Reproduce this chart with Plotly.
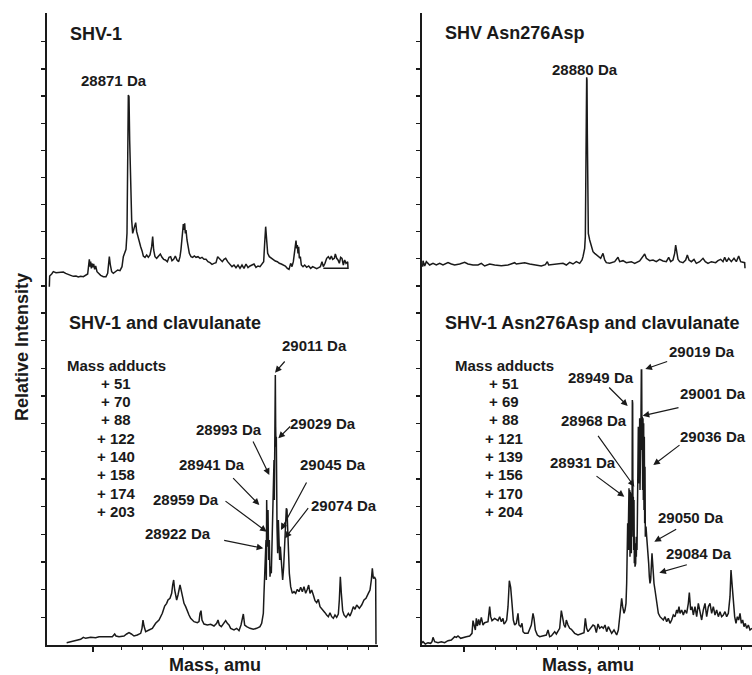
import plotly.graph_objects as go

# ---------------- data (mass in Da, intensity in arbitrary units) ----------------
tl_mass = [28634, 28635, 28641, 28646, 28654, 28661, 28668, 28676, 28683, 28691,
           28698, 28706, 28714, 28721, 28728, 28736, 28744, 28749, 28752, 28754,
           28756, 28758, 28760, 28762, 28764, 28767, 28770, 28773, 28777, 28782,
           28788, 28796, 28804, 28809, 28812, 28814, 28817, 28821, 28826, 28833,
           28839, 28846, 28852, 28856, 28860, 28864, 28867, 28869, 28871, 28873,
           28875, 28876, 28878, 28881, 28884, 28887, 28890, 28893, 28896, 28900,
           28904, 28908, 28912, 28916, 28921, 28926, 28931, 28936, 28941, 28944,
           28947, 28951, 28956, 28962, 28967, 28972, 28977, 28982, 28988, 28993,
           28998, 29002, 29007, 29012, 29017, 29022, 29026, 29029, 29032, 29034,
           29036, 29038, 29040, 29042, 29044, 29047, 29050, 29054, 29059, 29064,
           29069, 29074, 29080, 29086, 29092, 29098, 29104, 29110, 29116, 29122,
           29128, 29134, 29139, 29143, 29148, 29153, 29158, 29163, 29169, 29176,
           29182, 29188, 29194, 29200, 29206, 29212, 29218, 29224, 29230, 29236,
           29242, 29248, 29254, 29260, 29266, 29272, 29277, 29280, 29283, 29286,
           29289, 29294, 29300, 29306, 29312, 29318, 29324, 29330, 29336, 29342,
           29348, 29353, 29358, 29362, 29366, 29369, 29372, 29374, 29376, 29378,
           29380, 29382, 29384, 29387, 29390, 29395, 29400, 29406, 29412, 29418,
           29424, 29430, 29436, 29442, 29447, 29452, 29456, 29461, 29466, 29471,
           29476, 29480, 29484, 29489, 29492, 29496, 29500, 29504, 29508, 29512,
           29516, 29520, 29524, 29529, 29530, 29456]
tl_int = [40, 72, 78, 85, 82, 83, 85, 84, 80, 78,
          74, 71, 72, 69, 71, 70, 74, 78, 105, 122,
          100, 115, 95, 110, 98, 108, 92, 102, 85, 80,
          74, 70, 70, 80, 110, 130, 105, 85, 80, 85,
          90, 88, 100, 130, 145, 152, 200, 400, 615, 610,
          480, 440, 340, 240, 200, 210, 225, 232, 205, 188,
          175, 160, 148, 132, 128, 135, 128, 135, 160, 190,
          150, 130, 125, 132, 138, 128, 122, 120, 115, 128,
          130, 118, 122, 132, 120, 115, 130, 152, 195, 212,
          228, 210, 230, 200, 210, 180, 160, 140, 130, 128,
          132, 128, 130, 125, 128, 122, 122, 115, 112, 107,
          110, 112, 130, 125, 118, 115, 122, 125, 115, 105,
          100, 105, 97, 105, 95, 105, 95, 108, 97, 102,
          105, 108, 98, 102, 100, 108, 115, 170, 220, 180,
          140, 130, 125, 120, 117, 115, 110, 108, 105, 102,
          95, 92, 110, 100, 115, 140, 170, 178, 155, 165,
          140, 160, 125, 130, 105, 100, 105, 98, 102, 95,
          100, 98, 94, 97, 100, 115, 100, 110, 125, 130,
          122, 132, 122, 125, 138, 125, 120, 110, 128, 125,
          105, 120, 110, 115, 95, 95]

tr_mass = [28388, 28389, 28394, 28399, 28409, 28419, 28429, 28439, 28449, 28464,
           28474, 28484, 28499, 28514, 28524, 28539, 28554, 28564, 28574, 28589,
           28604, 28624, 28644, 28659, 28664, 28669, 28679, 28689, 28694, 28709,
           28724, 28744, 28756, 28762, 28766, 28779, 28794, 28809, 28819, 28829,
           28839, 28849, 28859, 28866, 28869, 28874, 28876, 28878, 28879, 28880,
           28881, 28882, 28883, 28885, 28889, 28894, 28899, 28904, 28914, 28922,
           28929, 28934, 28939, 28949, 28964, 28974, 28979, 28989, 28999, 29014,
           29024, 29039, 29054, 29059, 29069, 29079, 29089, 29099, 29109, 29119,
           29126, 29132, 29139, 29144, 29147, 29150, 29154, 29159, 29169, 29177,
           29182, 29187, 29194, 29202, 29209, 29219, 29229, 29236, 29244, 29254,
           29267, 29274, 29282, 29289, 29294, 29300, 29306, 29314, 29322, 29329,
           29336, 29342, 29349, 29354, 29355]
tr_int = [100, 118, 102, 115, 105, 110, 105, 110, 105, 112,
          108, 105, 108, 113, 108, 105, 105, 110, 102, 108,
          105, 103, 105, 110, 112, 108, 110, 110, 112, 108,
          105, 102, 106, 115, 105, 107, 108, 110, 105, 113,
          108, 115, 110, 120, 130, 155, 190, 340, 550, 668,
          660, 500, 340, 200, 180, 165, 145, 140, 130, 125,
          140, 120, 112, 110, 115, 128, 115, 118, 112, 115,
          110, 117, 138, 125, 118, 120, 115, 122, 117, 115,
          128, 115, 120, 140, 165, 140, 122, 115, 112, 120,
          135, 120, 115, 122, 110, 115, 125, 115, 110, 115,
          112, 118, 122, 115, 128, 115, 125, 115, 125, 115,
          132, 115, 112, 112, 95]

bl_mass = [28386, 28398, 28413, 28428, 28436, 28443, 28458, 28473, 28483, 28498,
           28513, 28523, 28530, 28534, 28543, 28558, 28566, 28573, 28580, 28588,
           28598, 28608, 28612, 28615, 28618, 28623, 28633, 28643, 28653, 28663,
           28673, 28680, 28686, 28690, 28696, 28701, 28704, 28707, 28710, 28713,
           28716, 28720, 28723, 28726, 28729, 28733, 28738, 28743, 28748, 28753,
           28758, 28768, 28778, 28783, 28786, 28789, 28792, 28798, 28808, 28818,
           28828, 28836, 28840, 28844, 28850, 28858, 28863, 28868, 28873, 28878,
           28888, 28896, 28903, 28909, 28912, 28916, 28920, 28926, 28936, 28946,
           28956, 28966, 28971, 28976, 28978, 28981, 28983, 28984, 28985, 28986,
           28988, 28990, 28992, 28994, 28996, 28998, 29000, 29002, 29004, 29006,
           29008, 29009, 29011, 29012, 29013, 29014, 29015, 29017, 29019, 29021,
           29023, 29025, 29027, 29030, 29034, 29037, 29040, 29043, 29045, 29047,
           29049, 29051, 29054, 29058, 29063, 29068, 29073, 29078, 29083, 29088,
           29093, 29098, 29103, 29108, 29112, 29116, 29121, 29126, 29131, 29136,
           29141, 29146, 29151, 29156, 29161, 29166, 29171, 29176, 29181, 29186,
           29191, 29196, 29201, 29204, 29207, 29210, 29214, 29218, 29224, 29231,
           29236, 29241, 29246, 29251, 29256, 29264, 29271, 29278, 29284, 29291,
           29296, 29300, 29303, 29306, 29310, 29313, 29314]
bl_int = [7, 10, 15, 17, 23, 20, 23, 22, 25, 25,
          27, 25, 33, 27, 25, 27, 33, 37, 33, 27,
          30, 35, 50, 75, 57, 40, 45, 50, 65, 75,
          95, 117, 125, 135, 140, 155, 180, 195, 165, 145,
          135, 150, 173, 180, 167, 145, 125, 115, 100, 90,
          80, 70, 67, 70, 95, 103, 75, 63, 60, 62,
          57, 65, 75, 60, 55, 65, 73, 65, 60, 50,
          45, 50, 43, 60, 80, 93, 60, 55, 50, 47,
          50, 55, 65, 95, 155, 235, 295, 315, 195, 435,
          295, 405, 255, 315, 205, 235, 215, 305, 475, 485,
          555, 435, 805, 810, 655, 595, 625, 355, 275, 375,
          315, 255, 295, 235, 195, 235, 295, 335, 410, 405,
          335, 255, 215, 175, 155, 160, 155, 167, 160, 173,
          160, 175, 155, 167, 180, 155, 165, 150, 133, 127,
          137, 115, 110, 103, 97, 90, 85, 97, 85, 80,
          90, 83, 93, 135, 205, 155, 103, 90, 83, 95,
          87, 100, 115, 107, 120, 110, 120, 135, 140, 155,
          165, 195, 230, 200, 203, 197, 2]

br_mass = [28358, 28363, 28370, 28378, 28386, 28390, 28393, 28398, 28408, 28418,
           28428, 28438, 28448, 28453, 28458, 28463, 28468, 28476, 28483, 28493,
           28503, 28510, 28513, 28516, 28520, 28523, 28526, 28530, 28533, 28538,
           28543, 28548, 28558, 28563, 28566, 28570, 28578, 28588, 28593, 28598,
           28603, 28606, 28610, 28614, 28618, 28622, 28626, 28630, 28634, 28638,
           28643, 28648, 28651, 28656, 28660, 28663, 28668, 28678, 28688, 28693,
           28696, 28700, 28706, 28713, 28723, 28733, 28738, 28743, 28748, 28758,
           28763, 28773, 28778, 28782, 28786, 28790, 28793, 28798, 28803, 28808,
           28818, 28828, 28838, 28846, 28850, 28854, 28858, 28863, 28868, 28873,
           28878, 28883, 28888, 28893, 28899, 28904, 28909, 28914, 28919, 28924,
           28929, 28936, 28940, 28944, 28949, 28952, 28956, 28959, 28962, 28966,
           28969, 28972, 28974, 28976, 28977, 28978, 28979, 28980, 28981, 28982,
           28983, 28984, 28985, 28986, 28987, 28988, 28989, 28990, 28991, 28992,
           28993, 28994, 28995, 28996, 28997, 28998, 28999, 29000, 29001, 29002,
           29003, 29004, 29005, 29006, 29007, 29008, 29009, 29010, 29011, 29012,
           29013, 29014, 29015, 29016, 29017, 29018, 29019, 29020, 29021, 29022,
           29023, 29024, 29025, 29026, 29027, 29028, 29029, 29030, 29031, 29032,
           29034, 29036, 29038, 29040, 29042, 29044, 29046, 29048, 29050, 29052,
           29054, 29056, 29059, 29062, 29066, 29069, 29074, 29079, 29084, 29089,
           29094, 29099, 29104, 29109, 29114, 29119, 29124, 29127, 29131, 29134,
           29139, 29144, 29149, 29154, 29159, 29162, 29166, 29170, 29174, 29179,
           29184, 29189, 29194, 29199, 29204, 29209, 29214, 29219, 29224, 29229,
           29234, 29239, 29244, 29249, 29254, 29259, 29264, 29269, 29274, 29279,
           29284, 29287, 29290, 29294, 29298, 29302, 29306, 29310, 29314, 29318,
           29322, 29326, 29330, 29334, 29339, 29344, 29350]
br_int = [5, 10, 3, 7, 5, 10, 23, 10, 7, 10,
          7, 13, 15, 20, 25, 23, 27, 20, 23, 25,
          27, 35, 73, 60, 45, 80, 57, 77, 60, 83,
          60, 67, 70, 115, 85, 73, 80, 73, 85, 70,
          80, 63, 67, 75, 115, 193, 173, 125, 75, 60,
          65, 95, 60, 55, 65, 40, 35, 35, 60, 95,
          80, 45, 30, 25, 27, 30, 45, 25, 27, 40,
          33, 50, 103, 80, 60, 53, 75, 60, 50, 47,
          35, 30, 35, 37, 80, 50, 40, 47, 55, 60,
          57, 37, 63, 50, 55, 50, 60, 40, 55, 45,
          35, 45, 37, 30, 45, 75, 125, 140, 115, 95,
          105, 125, 185, 265, 365, 285, 455, 295, 470, 285,
          465, 265, 460, 305, 455, 275, 445, 325, 735, 725,
          345, 445, 285, 435, 245, 325, 235, 285, 245, 305,
          265, 325, 285, 365, 505, 365, 655, 505, 675, 485,
          680, 465, 675, 535, 685, 825, 825, 585, 685, 465,
          680, 435, 665, 405, 625, 365, 535, 325, 435, 355,
          325, 305, 285, 245, 205, 185, 195, 235, 275, 245,
          205, 185, 165, 145, 115, 95, 85, 80, 75, 85,
          70, 80, 65, 75, 90, 85, 105, 95, 115, 95,
          105, 90, 105, 95, 125, 157, 105, 115, 90, 115,
          85, 125, 95, 75, 105, 125, 85, 115, 125, 95,
          115, 90, 105, 85, 100, 85, 90, 100, 85, 95,
          145, 225, 185, 125, 85, 65, 85, 75, 95, 65,
          75, 55, 65, 50, 60, 45, 50]

tl_peak = [28871]
tr_peak = [28880]
bl_peaks = [29011, 28993, 29029, 28941, 29045, 28959, 29074, 28922]
br_peaks = [29019, 28949, 29001, 28968, 29036, 28931, 29050, 29084]
bl_adducts = [51, 70, 88, 122, 140, 158, 174, 203]
br_adducts = [51, 69, 88, 121, 139, 156, 170, 204]

panel_titles = ["SHV-1", "SHV Asn276Asp", "SHV-1 and clavulanate",
                "SHV-1 Asn276Asp and clavulanate"]

# ---------------- layout helpers ----------------
W, H = 752, 675
INK = "#1a1a1a"
FONT = "Liberation Sans, Arial, Helvetica, sans-serif"


def px(x):
    return x / W


def py(y):
    return 1 - y / H


fig = go.Figure()
for m, it, xa, ya in [(tl_mass, tl_int, "x", "y"), (tr_mass, tr_int, "x2", "y2"),
                      (bl_mass, bl_int, "x3", "y3"), (br_mass, br_int, "x4", "y4")]:
    fig.add_trace(go.Scatter(x=m, y=it, mode="lines", xaxis=xa, yaxis=ya,
                             line=dict(color=INK, width=1.5),
                             hoverinfo="skip", showlegend=False))

left_dom = [px(47), px(378)]
right_dom = [px(422), 1.0]
top_dom = [py(300), py(13)]
bot_dom = [py(645), py(300)]

top_ticks = [42 + 81.4 * k for k in range(10)]
bot_ticks = [83 * k for k in range(1, 13)]


def yax(dom, rng, ticks, anchor):
    return dict(domain=dom, range=rng, anchor=anchor, showline=True, linewidth=1.8,
                linecolor=INK, ticks="outside", ticklen=4, tickwidth=1.2,
                tickcolor=INK, tickmode="array", tickvals=ticks,
                showticklabels=False, showgrid=False, zeroline=False, fixedrange=True)


def xax_hidden(dom, rng, anchor):
    return dict(domain=dom, range=rng, anchor=anchor, visible=False,
                showgrid=False, zeroline=False)


def xax(dom, rng, anchor, major, minor):
    return dict(domain=dom, range=rng, anchor=anchor, showline=True, linewidth=1.8,
                linecolor=INK, ticks="outside", ticklen=5, tickwidth=1.3,
                tickcolor=INK, tickmode="array", tickvals=major,
                showticklabels=False, showgrid=False, zeroline=False,
                minor=dict(tickmode="array", tickvals=minor, ticks="outside",
                           ticklen=3, tickwidth=1, tickcolor=INK, showgrid=False))


bl_minor = [28550, 28612, 28674, 28735, 28797, 28859, 28920, 28982, 29044,
            29106, 29167, 29229, 29291]
br_minor = [28581, 28643, 28704, 28766, 28827, 28889, 28950, 29012, 29073,
            29135, 29196, 29258, 29319]

fig.update_layout(
    width=W, height=H, margin=dict(l=0, r=0, t=0, b=0),
    paper_bgcolor="white", plot_bgcolor="white", showlegend=False,
    xaxis=xax_hidden(left_dom, [28627, 29620], "y"),
    yaxis=yax(top_dom, [0, 861], top_ticks, "x"),
    xaxis2=xax_hidden(right_dom, [28386, 29376], "y2"),
    yaxis2=yax(top_dom, [0, 861], top_ticks, "x2"),
    xaxis3=xax(left_dom, [28327, 29320], "y3", [28465], bl_minor),
    yaxis3=yax(bot_dom, [0, 1035], bot_ticks, "x3"),
    xaxis4=xax(right_dom, [28360, 29350], "y4", [28486], br_minor),
    yaxis4=yax(bot_dom, [0, 1035], bot_ticks, "x4"),
)

ann = []


def txt(text, x, y, size, xanchor="center", xref="paper", yref="paper", angle=0):
    ann.append(dict(text=text, x=x, y=y, xref=xref, yref=yref, showarrow=False,
                    xanchor=xanchor, yanchor="middle", textangle=angle,
                    font=dict(family=FONT, size=size, color=INK, weight="bold")))


def arrow(hx, hy, tx, ty, xr, yr):
    ann.append(dict(text="", x=hx, y=hy, ax=tx, ay=ty, xref=xr, yref=yr,
                    axref=xr, ayref=yr, showarrow=True, arrowhead=2,
                    arrowsize=1.1, arrowwidth=1.2, arrowcolor=INK, standoff=0))


# panel titles
txt(panel_titles[0], px(68), py(34), 18, "left")
txt(panel_titles[1], px(443), py(33), 18, "left")
txt(panel_titles[2], px(67), py(323), 18, "left")
txt(panel_titles[3], px(443), py(323), 18, "left")

# axis titles
txt("Relative Intensity", px(22), py(347), 18, angle=-90)
txt("Mass, amu", px(215.5), py(665), 18)
txt("Mass, amu", px(588), py(665), 18)

# top peak labels
txt(f"{tl_peak[0]} Da", 28828, 660, 15, xref="x", yref="y")
txt(f"{tr_peak[0]} Da", 28874, 693, 15, xref="x2", yref="y2")

# bottom-left labels and arrows
bl_lab_pos = [(29130, 900), (28873, 647), (29156, 665), (28822, 542),
              (29185, 542), (28744, 438), (29218, 420), (28720, 335)]
bl_arrows = [((29011, 817), (29044, 855)), ((28994, 510), (28943, 615)),
             ((29021, 620), (29061, 660)), ((28964, 420), (28881, 505)),
             ((29029, 345), (29108, 492)), ((28986, 340), (28858, 435)),
             ((29041, 320), (29114, 415)), ((28976, 290), (28854, 315))]
for p, (lx, ly), (h, t) in zip(bl_peaks, bl_lab_pos, bl_arrows):
    txt(f"{p} Da", lx, ly, 15, xref="x3", yref="y3")
    arrow(h[0], h[1], t[0], t[1], "x3", "y3")

br_lab_pos = [(29200, 882), (28898, 802), (29233, 755), (28876, 675),
              (29233, 625), (28843, 548), (29166, 383), (29191, 275)]
br_arrows = [((29030, 828), (29100, 852)), ((28977, 717), (28917, 777)),
             ((29022, 688), (29134, 713)), ((28997, 475), (28885, 632)),
             ((29054, 540), (29137, 603)), ((28967, 445), (28879, 510)),
             ((29057, 310), (29127, 350)), ((29072, 217), (29159, 242))]
for p, (lx, ly), (h, t) in zip(br_peaks, br_lab_pos, br_arrows):
    txt(f"{p} Da", lx, ly, 15, xref="x4", yref="y4")
    arrow(h[0], h[1], t[0], t[1], "x4", "y4")

# mass adduct lists
for cx, adducts in [(116, bl_adducts), (504, br_adducts)]:
    txt("Mass adducts", px(cx), py(365), 15)
    for k, a in enumerate(adducts):
        txt(f"+ {a}", px(cx), py(383.3 + 18.3 * k), 15)

fig.update_layout(annotations=ann)
fig.write_html(
    "out.html",
    config={"displayModeBar": False, "staticPlot": True},
    post_script="document.body.style.margin='0';document.body.style.overflow='hidden';",
)
